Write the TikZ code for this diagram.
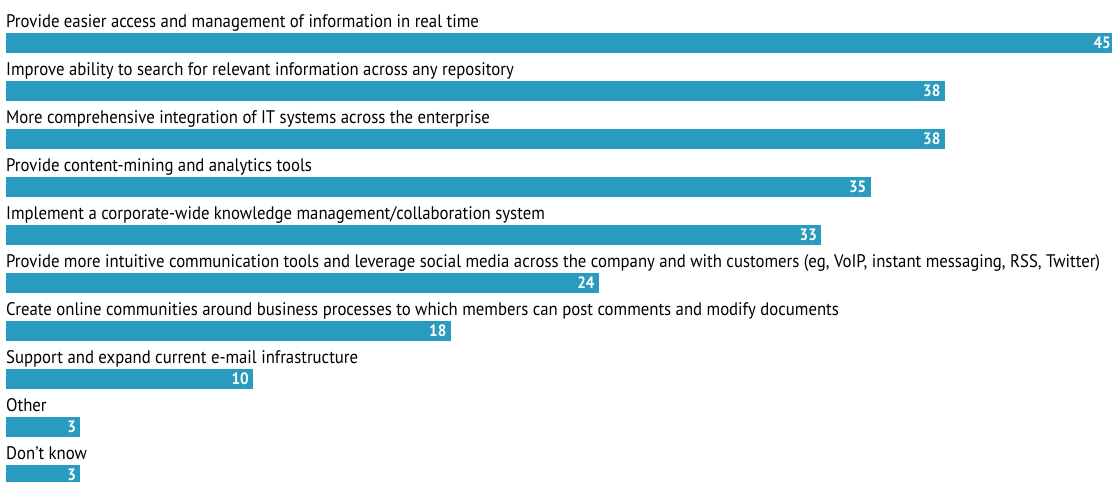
\documentclass[tikz,border=0pt]{standalone}
\usepackage{fontspec}
\setmainfont{PT Sans}[FakeStretch=0.92]
\definecolor{barblue}{RGB}{41,155,190}
\begin{document}
\begin{tikzpicture}[x=1pt,y=-1pt,
  lbl/.style={anchor=base west, inner sep=0pt, font=\fontsize{18.2}{20}\selectfont},
  val/.style={anchor=base east, inner sep=0pt, text=white, font=\bfseries\fontsize{16.5}{18}\selectfont},
  bar/.style={fill=barblue, draw=none, inner sep=0pt, anchor=north west, minimum height=19.5pt}]
\useasboundingbox (0,0) rectangle (1112,482);
\clip (0,0) rectangle (1112,482);
\foreach \v/\t [count=\i from 0] in {
  45/{Provide easier access and management of information in real time},
  38/{Improve ability to search for relevant information across any repository},
  38/{More comprehensive integration of IT systems across the enterprise},
  35/{Provide content-mining and analytics tools},
  33/{Implement a corporate-wide knowledge management/collaboration system},
  24/{Provide more intuitive communication tools and leverage social media across the company and with customers (eg, VoIP, instant messaging, RSS, Twitter)},
  18/{Create online communities around business processes to which members can post comments and modify documents},
  10/{Support and expand current e-mail infrastructure},
  3/{Other},
  3/{Don’t know}}{
  \pgfmathsetmacro\yy{33+48*\i}
  \pgfmathsetmacro\ww{24.7*\v}
  \pgfmathsetmacro\xe{min(6+\ww-4,1111)}
  \node[bar, minimum width=\ww pt] (b\i) at (6,\yy) {};
  \node[lbl] (l\i) at (6,\yy-5.7) {\t};
  \node[val] (v\i) at (\xe,\yy+15.3) {\v};
}
\end{tikzpicture}
\end{document}
